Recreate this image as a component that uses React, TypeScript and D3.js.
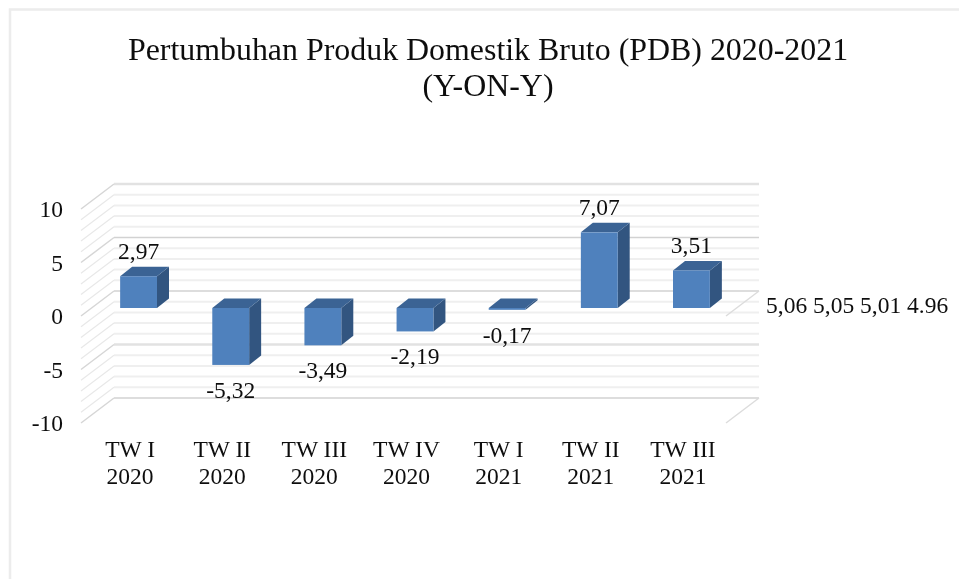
import * as d3 from "d3";

const categories = ["TW I", "TW II", "TW III", "TW IV", "TW I", "TW II", "TW III"];
const years = ["2020", "2020", "2020", "2020", "2021", "2021", "2021"];
const values = [2.97, -5.32, -3.49, -2.19, -0.17, 7.07, 3.51];
const valueLabels = ["2,97", "-5,32", "-3,49", "-2,19", "-0,17", "7,07", "3,51"];
const majorTicks = [10, 5, 0, -5, -10];
const minorTicks = d3.range(-10, 11);
const titleLines = ["Pertumbuhan Produk Domestik Bruto (PDB) 2020-2021", "(Y-ON-Y)"];
const strayLabels = "5,06 5,05 5,01 4.96";

const width = 959;
const height = 579;
const font = "'Liberation Serif', 'Times New Roman', serif";
const textColor = "#111111";

// front edge of the floor, the back wall sits up and to the right of it
const depth = { x: 33, y: -25 };
const barDepth = { x: 12, y: -9.5 };
const barShift = { x: 11.5, y: -8 };

export default function App() {
  const x = d3
    .scaleBand<number>()
    .domain(d3.range(categories.length))
    .range([81, 726])
    .paddingInner(0.6)
    .paddingOuter(0.3);
  const y = d3.scaleLinear().domain([-10, 10]).range([423, 209]);

  const barWidth = x.bandwidth();
  const isMajor = (t: number) => majorTicks.includes(t);

  return (
    <svg
      width={width}
      height={height}
      style={{ position: "absolute", left: 0, top: 0, display: "block" }}
      fontFamily={font}
    >
      <defs>
        <filter id="soft" x="-5%" y="-5%" width="110%" height="110%">
          <feGaussianBlur stdDeviation="0.55" />
        </filter>
      </defs>
      <rect width={width} height={height} fill="white" />

      <g filter="url(#soft)">
        {/* Outer chart border */}
        <path d={`M10,${height} V9.5 H${width}`} fill="none" stroke="#ececec" strokeWidth={2.5} />

        {/* Title */}
        {titleLines.map((line, i) => (
          <text key={line} x={488} y={60 + i * 36} textAnchor="middle" fontSize={31.9} fill={textColor}>
            {line}
          </text>
        ))}

        {/* Wall and side grid lines */}
        {minorTicks.map((t) => {
          const major = isMajor(t);
          const color = t === 10 || t === -5 ? "#e2e2e2" : major ? "#d2d2d2" : "#efefef";
          const sw = t === 10 || t === -5 ? 2.5 : major ? 1.5 : 2;
          return (
            <g key={t}>
              <line
                x1={81 + depth.x}
                x2={726 + depth.x}
                y1={y(t) + depth.y}
                y2={y(t) + depth.y}
                stroke={color}
                strokeWidth={sw}
              />
              <line
                x1={81}
                x2={81 + depth.x}
                y1={y(t)}
                y2={y(t) + depth.y}
                stroke={major ? "#d6d6d6" : "#e8e8e8"}
                strokeWidth={major ? 1.5 : 1.2}
              />
            </g>
          );
        })}

        {/* Right side edges of the floor */}
        {[0, -10].map((t) => (
          <line
            key={t}
            x1={726}
            x2={726 + depth.x}
            y1={y(t)}
            y2={y(t) + depth.y}
            stroke="#dcdcdc"
            strokeWidth={1.5}
          />
        ))}

        {/* Y axis labels */}
        {majorTicks.map((t) => (
          <text key={t} x={63} y={y(t) + 8} textAnchor="end" fontSize={23.5} fill={textColor}>
            {t}
          </text>
        ))}

        {/* Bars */}
        {values.map((v, i) => {
          const x0 = (x(i) as number) + barShift.x;
          const x1 = x0 + barWidth;
          const top = y(Math.max(v, 0)) + barShift.y;
          const bottom = y(Math.min(v, 0)) + barShift.y;
          const dx = barDepth.x;
          const dy = barDepth.y;
          return (
            <g key={i}>
              <path
                d={`M${x1},${top} L${x1 + dx},${top + dy} V${bottom + dy} L${x1},${bottom} Z`}
                fill="#325580"
              />
              <path
                d={`M${x0},${top} L${x0 + dx},${top + dy} H${x1 + dx} L${x1},${top} Z`}
                fill="#3a6394"
              />
              <rect x={x0} y={top} width={barWidth} height={bottom - top} fill="#4f81bd" />
            </g>
          );
        })}

        {/* Value labels */}
        {values.map((v, i) => {
          const cx = (x(i) as number) + barShift.x + barWidth / 2;
          const ly = v >= 0 ? y(v) + barShift.y + barDepth.y - 8 : y(v) + barShift.y + 33;
          return (
            <text key={i} x={cx} y={ly} textAnchor="middle" fontSize={23.5} fill={textColor}>
              {valueLabels[i]}
            </text>
          );
        })}

        {/* Category labels */}
        {categories.map((c, i) => {
          const cx = (x(i) as number) + barWidth / 2 + 3;
          return (
            <text key={i} textAnchor="middle" fontSize={23.5} fill={textColor}>
              <tspan x={cx} y={457}>{c}</tspan>
              <tspan x={cx} y={484}>{years[i]}</tspan>
            </text>
          );
        })}

        <text x={766} y={313} fontSize={23.5} fill={textColor}>
          {strayLabels}
        </text>
      </g>
    </svg>
  );
}
